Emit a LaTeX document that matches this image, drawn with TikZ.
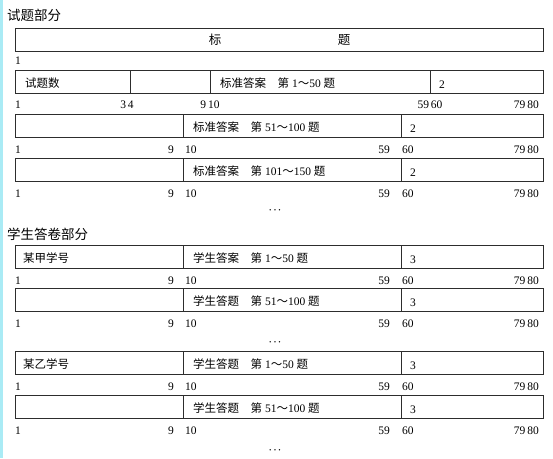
\documentclass[tikz,border=0pt]{standalone}
\usepackage{fontspec}
\setmainfont{Liberation Serif}
\newfontfamily\cjk{Noto Sans CJK SC}
\usepackage{tikz}
\usetikzlibrary{positioning}
\usepackage{xcolor}
\definecolor{rulegray}{RGB}{45,45,45}
\definecolor{scanedge}{RGB}{170,235,245}
\newcommand{\zh}[1]{{\cjk #1}}
\tikzstyle{field} = [draw=rulegray, line width=0.8pt]
\tikzstyle{num} = [font=\fontsize{11.5}{12}\selectfont, inner sep=0pt]
\tikzstyle{cell} = [font=\fontsize{11.5}{12}\selectfont, inner sep=0pt, anchor=west]
\tikzstyle{big} = [font=\cjk\fontsize{12.5}{13}\selectfont, inner sep=0pt]
\tikzstyle{part} = [font=\cjk\fontsize{13.5}{14}\selectfont, inner sep=0pt, anchor=west]
\tikzstyle{dots} = [font=\boldmath\fontsize{9.5}{10}\selectfont, inner sep=0pt]

\begin{document}
\begin{tikzpicture}[x=1pt, y=-1pt]
    \useasboundingbox (0,0) rectangle (553,458);
    % Scan edge
    \fill[scanedge] (0,0) rectangle (2.5,458);

    % Test part
    \node[part] (testpart) at (7,15) {试题部分};
    \draw[field] (15,28) rectangle (543,51);
    \node[big] (biao) at (215,40) {标};
    \node[big] (ti) at (344,40) {题};
    \node[num, anchor=west] (head1) at (15,61) {1};

    \draw[field] (15,70) rectangle (543,93);
    \draw[field] (130,70) -- (130,93);
    \draw[field] (210,70) -- (210,93);
    \draw[field] (430,70) -- (430,93);
    \node[cell] (count) at (25,83) {\zh{试题数}};
    \node[cell] (key1) at (220,83) {\zh{标准答案\quad 第} 1\zh{～}50 \zh{题}};
    \node[cell] (kind1) at (439,85) {2};
    \node[num, anchor=west] (c1) at (15,105) {1};
    \node[num] (c34) at (127,105) {3\,4};
    \node[num] (c910) at (210,105) {9\,10};
    \node[num] (c5960) at (430,105) {59\,60};
    \node[num, anchor=east] (c7980) at (539,105) {79\,80};

    \draw[field] (15,114) rectangle (543,137);
    \draw[field] (183,114) -- (183,137);
    \draw[field] (401,114) -- (401,137);
    \node[cell] (key2) at (193,127) {\zh{标准答案\quad 第} 51\zh{～}100 \zh{题}};
    \node[cell] (kind2) at (410,129) {2};

    \draw[field] (15,158) rectangle (543,181);
    \draw[field] (183,158) -- (183,181);
    \draw[field] (401,158) -- (401,181);
    \node[cell] (key3) at (193,171) {\zh{标准答案\quad 第} 101\zh{～}150 \zh{题}};
    \node[cell] (kind3) at (410,173) {2};

    \node[dots] (more1) at (275,210) {$\cdots$};

    % Answer part
    \node[part] (answerpart) at (7,234) {学生答卷部分};
    \draw[field] (15,245) rectangle (543,268);
    \draw[field] (183,245) -- (183,268);
    \draw[field] (401,245) -- (401,268);
    \node[cell] (idA) at (23,258) {\zh{某甲学号}};
    \node[cell] (ansA1) at (193,258) {\zh{学生答案\quad 第} 1\zh{～}50 \zh{题}};
    \node[cell] (kind4) at (410,260) {3};

    \draw[field] (15,288) rectangle (543,311);
    \draw[field] (183,288) -- (183,311);
    \draw[field] (401,288) -- (401,311);
    \node[cell] (ansA2) at (193,301) {\zh{学生答题\quad 第} 51\zh{～}100 \zh{题}};
    \node[cell] (kind5) at (410,303) {3};

    \node[dots] (more2) at (275,342) {$\cdots$};

    \draw[field] (15,351) rectangle (543,374);
    \draw[field] (183,351) -- (183,374);
    \draw[field] (401,351) -- (401,374);
    \node[cell] (idB) at (23,364) {\zh{某乙学号}};
    \node[cell] (ansB1) at (193,364) {\zh{学生答题\quad 第} 1\zh{～}50 \zh{题}};
    \node[cell] (kind6) at (410,366) {3};

    \draw[field] (15,395) rectangle (543,418);
    \draw[field] (183,395) -- (183,418);
    \draw[field] (401,395) -- (401,418);
    \node[cell] (ansB2) at (193,408) {\zh{学生答题\quad 第} 51\zh{～}100 \zh{题}};
    \node[cell] (kind7) at (410,410) {3};

    \node[dots] (more3) at (275,450) {$\cdots$};

    % Column numbers
    \foreach \y [count=\i] in {149.5,193.5,281,324,387,431} {
        \node[num, anchor=west] (one\i) at (15,\y) {1};
        \node[num, anchor=east] (nine\i) at (174,\y) {9};
        \node[num, anchor=west] (ten\i) at (185,\y) {10};
        \node[num, anchor=east] (fiftynine\i) at (390,\y) {59};
        \node[num, anchor=west] (sixty\i) at (402,\y) {60};
        \node[num, anchor=east] (eighty\i) at (539,\y) {79\,80};
    }
\end{tikzpicture}
\end{document}
